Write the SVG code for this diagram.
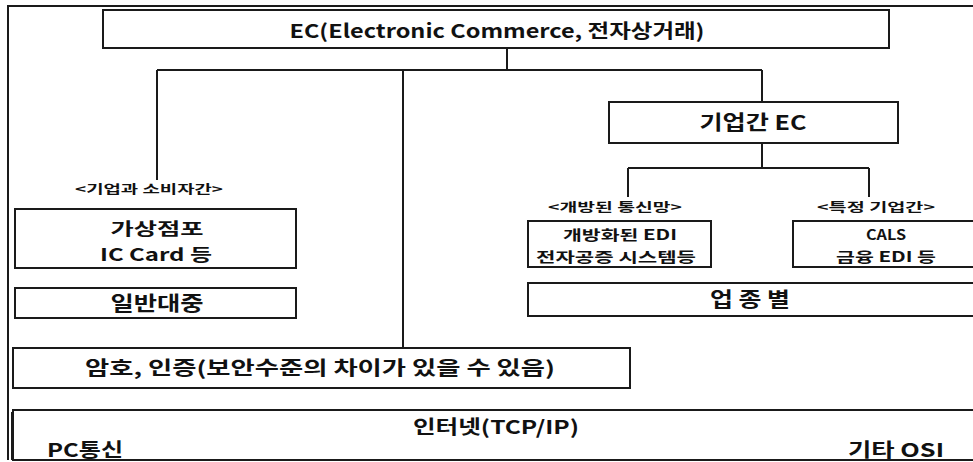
<svg xmlns="http://www.w3.org/2000/svg" width="973" height="462" viewBox="0 0 973 462">
<style>
.box{fill:#fff;stroke:#1a1a1a;stroke-width:2}
.ln{fill:none;stroke:#1a1a1a;stroke-width:2}
.t{font-family:"Noto Sans CJK KR","Liberation Sans",sans-serif;fill:#111;text-anchor:middle;font-weight:bold}
.big{font-size:19px}
.mid{font-size:20px}
.two{font-size:17px}
.sm{font-size:12px}
.md{font-size:14px}
</style>
<rect width="973" height="462" fill="#fff"/>
<g id="frame">
<path class="ln" d="M8 460 V6 H973" stroke-width="3"/>
<path class="ln" d="M12 460 V412" stroke-width="1"/>
</g>
<g id="connectors">
<path class="ln" d="M507 48 V70 M157 70 H762 M157 70 V180 M403 70 V348 M762 70 V102"/>
<path class="ln" d="M762 143 V168 M628 168 H869 M628 168 V197 M869 168 V197"/>
</g>
<g id="ec">
<rect class="box" x="103" y="10" width="786" height="38"/>
<text class="t big" x="497" y="38" textLength="415" lengthAdjust="spacingAndGlyphs">EC(Electronic Commerce, 전자상거래)</text>
</g>
<g id="b2b">
<rect class="box" x="609" y="102" width="289" height="41"/>
<text class="t mid" x="753" y="130" textLength="107" lengthAdjust="spacingAndGlyphs">기업간 EC</text>
</g>
<g id="b2c-label"><text class="t sm" x="149" y="194" textLength="148" lengthAdjust="spacingAndGlyphs">&lt;기업과 소비자간&gt;</text></g>
<g id="virtual-store">
<rect class="box" x="15" y="209" width="281" height="59"/>
<text class="t two" x="157" y="235" textLength="93" lengthAdjust="spacingAndGlyphs">가상점포</text>
<text class="t two" x="156" y="261" textLength="112" lengthAdjust="spacingAndGlyphs">IC Card 등</text>
</g>
<g id="public">
<rect class="box" x="15" y="288" width="281" height="30"/>
<text class="t mid" x="157" y="311" textLength="93" lengthAdjust="spacingAndGlyphs">일반대중</text>
</g>
<g id="open-label"><text class="t sm" x="615" y="212" textLength="134" lengthAdjust="spacingAndGlyphs">&lt;개방된 통신망&gt;</text></g>
<g id="open-edi">
<rect class="box" x="528" y="221" width="183" height="46"/>
<text class="t md" x="620" y="240" textLength="114" lengthAdjust="spacingAndGlyphs">개방화된 EDI</text>
<text class="t md" x="616" y="262" textLength="160" lengthAdjust="spacingAndGlyphs">전자공증 시스템등</text>
</g>
<g id="specific-label"><text class="t sm" x="876" y="212" textLength="118" lengthAdjust="spacingAndGlyphs">&lt;특정 기업간&gt;</text></g>
<g id="cals">
<rect class="box" x="793" y="221" width="185" height="46"/>
<text class="t md" x="886" y="240" textLength="40" lengthAdjust="spacingAndGlyphs">CALS</text>
<text class="t md" x="886" y="262" textLength="100" lengthAdjust="spacingAndGlyphs">금융 EDI 등</text>
</g>
<g id="industry">
<rect class="box" x="528" y="283" width="450" height="33"/>
<text class="t mid" x="750" y="307" textLength="80" lengthAdjust="spacingAndGlyphs">업 종 별</text>
</g>
<g id="crypto">
<rect class="box" x="13" y="348" width="617" height="40"/>
<text class="t big" x="320" y="375" textLength="470" lengthAdjust="spacingAndGlyphs">암호, 인증(보안수준의 차이가 있을 수 있음)</text>
</g>
<g id="internet">
<rect class="box" x="13" y="410" width="965" height="50"/>
<text class="t big" x="496" y="434" textLength="166" lengthAdjust="spacingAndGlyphs">인터넷(TCP/IP)</text>
<text class="t big" x="85" y="457" textLength="76" lengthAdjust="spacingAndGlyphs">PC통신</text>
<text class="t big" x="896" y="457" textLength="96" lengthAdjust="spacingAndGlyphs">기타 OSI</text>
</g>
</svg>
